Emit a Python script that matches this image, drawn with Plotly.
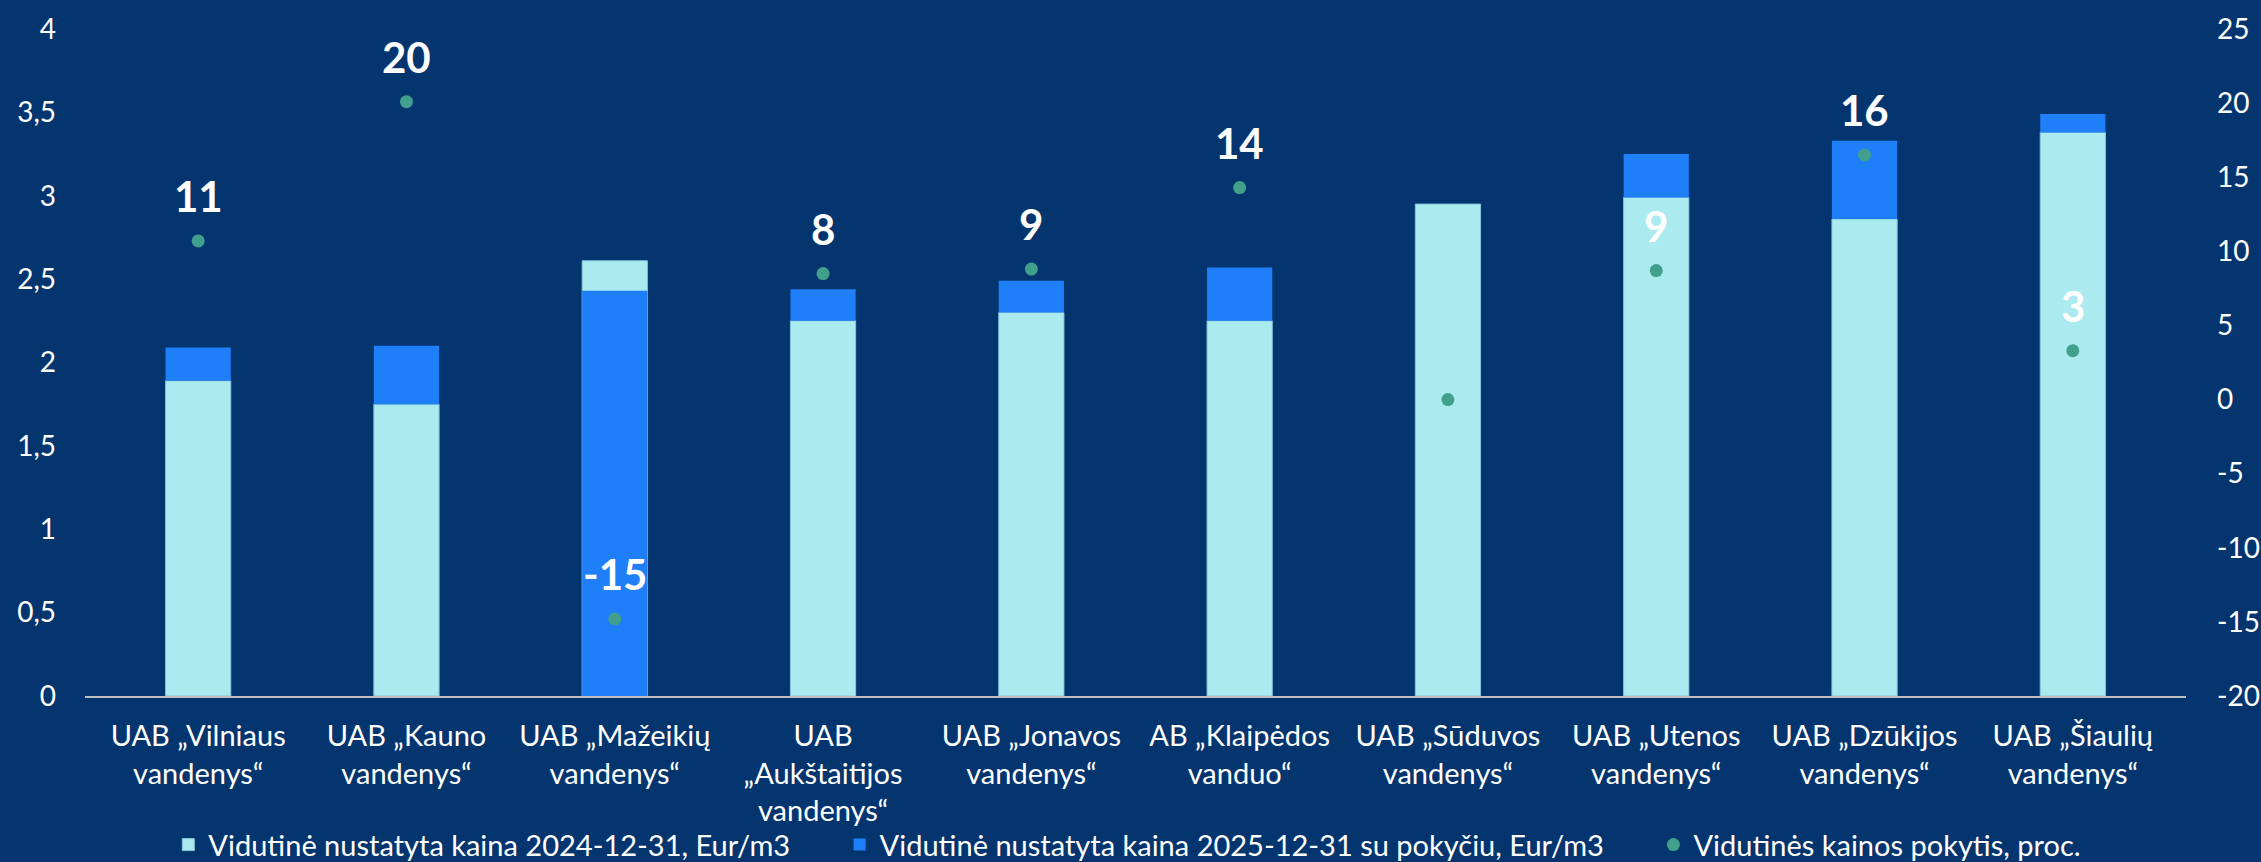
import plotly.graph_objects as go

categories = [
    "UAB „Vilniaus<br>vandenys“",
    "UAB „Kauno<br>vandenys“",
    "UAB „Mažeikių<br>vandenys“",
    "UAB<br>„Aukštaitijos<br>vandenys“",
    "UAB „Jonavos<br>vandenys“",
    "AB „Klaipėdos<br>vanduo“",
    "UAB „Sūduvos<br>vandenys“",
    "UAB „Utenos<br>vandenys“",
    "UAB „Dzūkijos<br>vandenys“",
    "UAB „Šiaulių<br>vandenys“",
]
price_2024 = [1.89, 1.75, 2.61, 2.25, 2.30, 2.25, 2.95, 2.99, 2.86, 3.38]
price_2025 = [2.09, 2.10, 2.43, 2.44, 2.49, 2.57, 2.95, 3.25, 3.33, 3.49]
change_pct = [10.7, 20.1, -14.8, 8.5, 8.8, 14.3, 0.0, 8.7, 16.5, 3.3]

right_tick_vals = [-20, -15, -10, -5, 0, 5, 10, 15, 20, 25]
right_tick_text = ["-20", "-15", "-10", "-5", "0", "5", "10", "15", "20", "25"]

name_2024 = "Vidutinė nustatyta kaina 2024-12-31, Eur/m3"
name_2025 = "Vidutinė nustatyta kaina 2025-12-31 su pokyčiu, Eur/m3"
name_chg = "Vidutinės kainos pokytis, proc."

BG = "#05356F"
LIGHT = "#ABEBEF"
BLUE = "#1F7FF8"
DOT = "#40A08C"
FONT = "Lato, 'Open Sans', sans-serif"
NBSP = "\u00a0"

# the 2025 bar is shown in front: above the 2024 bar when prices rise, covering it when they fall
blue_base = [a if b >= a else 0 for a, b in zip(price_2024, price_2025)]
blue_height = [b - base for b, base in zip(price_2025, blue_base)]

fig = go.Figure()
fig.add_trace(go.Bar(
    x=categories, y=price_2024, name=name_2024 + NBSP * 6,
    marker=dict(color=LIGHT, line=dict(color="#86C6DC", width=1)),
    width=0.313, yaxis="y",
))
fig.add_trace(go.Bar(
    x=categories, y=blue_height, base=blue_base, name=name_2025 + NBSP * 6,
    marker=dict(color=BLUE, line=dict(width=0)),
    width=0.313, yaxis="y",
))
fig.add_trace(go.Scatter(
    x=categories, y=change_pct, name=name_chg, mode="markers",
    marker=dict(color=DOT, size=13), yaxis="y2",
))

annotations = []
for c, v in zip(categories, change_pct):
    if round(v) == 0:
        continue
    label = str(round(v))
    annotations.append(dict(
        x=c, y=v, xref="x", yref="y2", text=f"<b>{label}</b>",
        showarrow=False, yshift=45, yanchor="middle",
        font=dict(family=FONT, size=42, color="white"),
    ))

fig.update_layout(
    width=2261, height=862,
    paper_bgcolor=BG, plot_bgcolor=BG,
    margin=dict(l=85, r=75, t=29, b=166, autoexpand=False),
    barmode="overlay",
    separators=", ",
    font=dict(family=FONT, size=29, color="white"),
    showlegend=True,
    legend=dict(
        orientation="h", xref="container", yref="container",
        x=0.4986, xanchor="center", y=0.02, yanchor="middle",
        font=dict(family=FONT, size=29, color="white"),
        bgcolor="rgba(0,0,0,0)", itemwidth=30, tracegroupgap=0,
    ),
    xaxis=dict(
        showline=True, linecolor="#BFBFBF", linewidth=2,
        showgrid=False, zeroline=False, ticks="", automargin=False,
        tickfont=dict(family=FONT, size=29, color="white"),
        ticklabelstandoff=13,
    ),
    yaxis=dict(
        range=[0, 4], dtick=0.5, showgrid=False, zeroline=False,
        showline=False, ticks="", automargin=False,
        tickfont=dict(family=FONT, size=28, color="white"),
        ticklabelstandoff=28,
    ),
    yaxis2=dict(
        range=[-20, 25], tickvals=right_tick_vals, ticktext=right_tick_text,
        overlaying="y", side="right", automargin=False,
        showgrid=False, zeroline=False, showline=False, ticks="",
        tickfont=dict(family=FONT, size=28, color="white"),
        ticklabelstandoff=30,
    ),
    annotations=annotations,
)

fig.write_html(
    "out.html",
    config={"displayModeBar": False},
    post_script="document.body.style.margin='0';document.body.style.background='#05356F';",
)
